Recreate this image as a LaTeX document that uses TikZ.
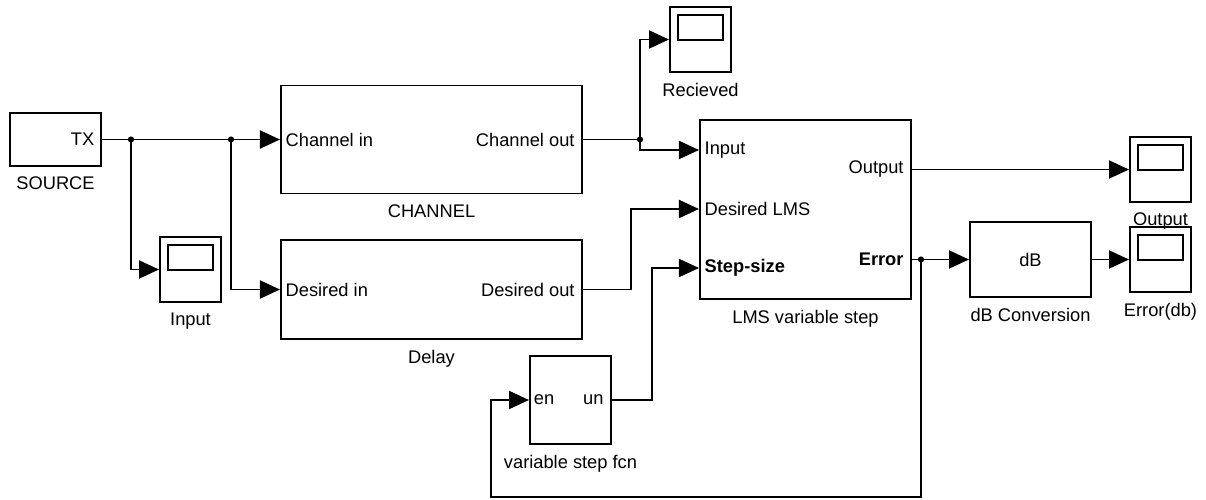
\documentclass[tikz,border=0pt]{standalone}
\usepackage{fontspec}
\setmainfont{Liberation Sans}
\usetikzlibrary{arrows.meta}

\tikzset{
  blk/.style={draw, line width=1.4pt, inner sep=0pt},
  scp/.style={blk, minimum width=1.525cm, minimum height=1.625cm},
  port/.style={font=\fontsize{13}{15}\selectfont, inner sep=1pt},
  lbl/.style={font=\fontsize{13}{15}\selectfont, yshift=-0.13cm},
  wire/.style={line width=1.4pt},
  sig/.style={wire, -{Triangle[length=0.5cm, width=0.45cm]}}
}

\begin{document}
\begin{tikzpicture}[x=0.025cm, y=-0.025cm]

    \useasboundingbox (0,0) rectangle (1206,500);

    % Blocks
    \node[blk, minimum width=2.275cm, minimum height=1.325cm, label={[lbl]below:SOURCE}] (src) at (55.5,139.5) {};
    \node[blk, minimum width=7.525cm, minimum height=2.7cm, label={[lbl]below:CHANNEL}] (chan) at (431.5,139.5) {};
    \node[blk, minimum width=7.525cm, minimum height=2.475cm, label={[lbl]below:Delay}] (dly) at (431.5,289.5) {};
    \node[blk, minimum width=5.275cm, minimum height=4.475cm, label={[lbl]below:LMS variable step}] (lms) at (805.5,209.5) {};
    \node[blk, minimum width=2.025cm, minimum height=2.2cm, label={[lbl]below:variable step fcn}] (vsf) at (570.5,400) {};
    \node[blk, minimum width=3.025cm, minimum height=1.875cm, label={[lbl]below:dB Conversion}] (db) at (1030.5,259.5) {};

    % Scopes
    \foreach \nm/\cx/\cy/\txt in {recv/700.5/39.5/Recieved, inscp/190.5/269.5/Input,
                                  outscp/1160.5/169.5/Output, errscp/1160.5/259.5/Error(db)} {
        \node[scp, label={[lbl]below:\txt}] (\nm) at (\cx,\cy) {};
        \node[blk, minimum width=1.125cm, minimum height=0.625cm] (\nm-win) at ([yshift=0.3cm]\nm.center) {};
    }

    % Port texts
    \node[port, anchor=east] (tx) at ([xshift=-0.15cm]src.east) {TX};
    \node[port, anchor=west] (chin) at ([xshift=0.1cm]chan.west) {Channel in};
    \node[port, anchor=east] (chout) at ([xshift=-0.17cm]chan.east) {Channel out};
    \node[port, anchor=west] (dsin) at ([xshift=0.1cm]dly.west) {Desired in};
    \node[port, anchor=east] (dsout) at ([xshift=-0.17cm]dly.east) {Desired out};
    \node[port, anchor=west] (en) at ([xshift=0.08cm]vsf.west) {en};
    \node[port, anchor=east] (un) at ([xshift=-0.17cm]vsf.east) {un};
    \node[port] (dbtxt) at (db.center) {dB};

    \coordinate (lmsin) at (lms.west |- 0,150);
    \coordinate (lmsdes) at (lms.west |- 0,209);
    \coordinate (lmsstep) at (lms.west |- 0,268);
    \coordinate (lmsout) at (lms.east |- 0,169.5);
    \coordinate (lmserr) at (lms.east |- 0,259.5);

    \node[port, anchor=west] (inp) at ([xshift=0.1cm]lmsin) {Input};
    \node[port, anchor=west] (des) at ([xshift=0.1cm]lmsdes) {Desired LMS};
    \node[port, anchor=west, font=\fontsize{13}{15}\selectfont\bfseries] (stp) at ([xshift=0.1cm]lmsstep) {Step-size};
    \node[port, anchor=east] (outp) at ([xshift=-0.17cm]lmsout) {Output};
    \node[port, anchor=east, font=\fontsize{13}{15}\selectfont\bfseries] (err) at ([xshift=-0.17cm]lmserr) {Error};

    % Junctions
    \coordinate (j1) at (131,139.5);
    \coordinate (j2) at (231,139.5);
    \coordinate (j3) at (640,139.5);
    \coordinate (j4) at (921,259.5);
    \coordinate (fb) at (491,497);

    % Signals
    \draw[sig] (src.east) -- (chan.west);
    \draw[sig] (j1) |- (inscp.west);
    \draw[sig] (j2) |- (dly.west);
    \draw[wire] (chan.east) -- (j3);
    \draw[sig] (j3) |- (recv.west);
    \draw[sig] (j3) |- (lmsin);
    \draw[sig] (dly.east) -- ++(48,0) |- (lmsdes);
    \draw[sig] (vsf.east) -- ++(40,0) |- (lmsstep);
    \draw[sig] (lmsout) -- (outscp.west);
    \draw[wire] (lmserr) -- (j4);
    \draw[sig] (j4) -- (db.west);
    \draw[sig] (db.east) -- (errscp.west);
    \draw[sig] (j4) |- (fb) |- (vsf.west);

    \foreach \j in {j1,j2,j3,j4} {
        \fill (\j) circle (2.2pt);
    }

\end{tikzpicture}
\end{document}
